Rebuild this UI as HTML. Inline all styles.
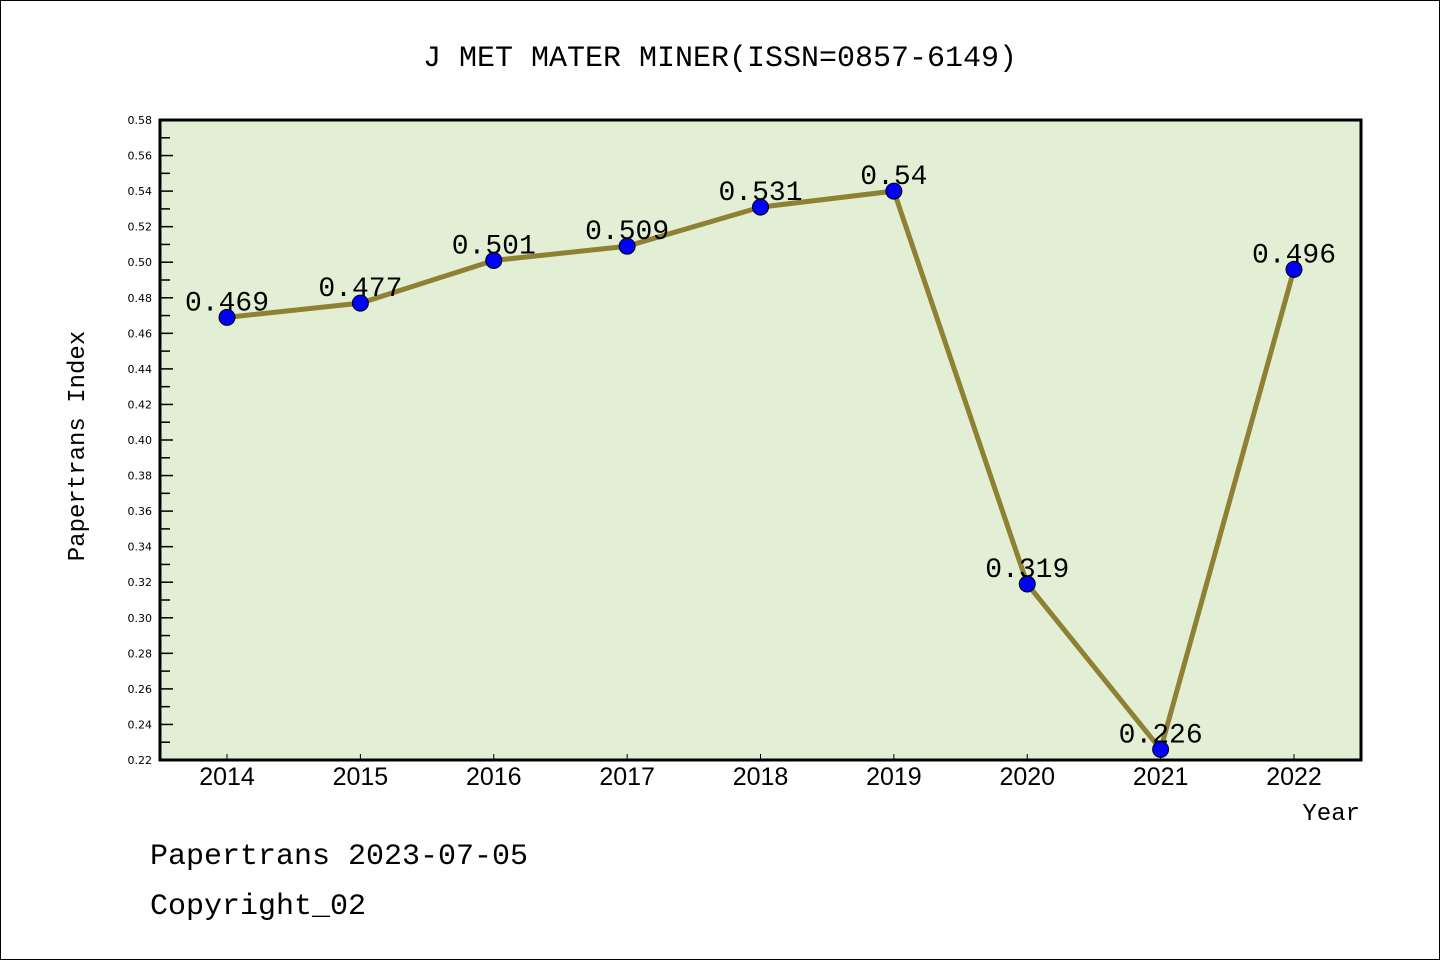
<!DOCTYPE html>
<html><head><meta charset="utf-8"><style>
html,body{margin:0;padding:0;background:#fff}
svg{display:block}
text{font-family:"WenQuanYi Zen Hei","Liberation Mono",monospace}
</style></head><body>
<svg id="c" width="1440" height="960">
<rect x="0.5" y="0.5" width="1439" height="959" fill="#fff" stroke="#000"/>
<text x="720" y="66" text-anchor="middle" font-size="30">J MET MATER MINER(ISSN=0857-6149)</text>
<rect x="160" y="120" width="1201" height="640" fill="#e2efd5"/>
<g id="ticks"></g>
<g id="series"></g>
<rect x="160" y="120" width="1201" height="640" fill="none" stroke="#000" stroke-width="3"/>
<text transform="translate(84,446) rotate(-90)" text-anchor="middle" font-size="24">Papertrans Index</text>
<text x="1360" y="820" text-anchor="end" font-size="24">Year</text>
<text x="150" y="864" font-size="30">Papertrans 2023-07-05</text>
<text x="150" y="914" font-size="30">Copyright_02</text>
</svg>
<script>
const years=["2014","2015","2016","2017","2018","2019","2020","2021","2022"];
const values=[0.469,0.477,0.501,0.509,0.531,0.54,0.319,0.226,0.496];
const labels=["0.469","0.477","0.501","0.509","0.531","0.54","0.319","0.226","0.496"];
const yMin=0.22,yMax=0.58;
const ns="http://www.w3.org/2000/svg";
function X(i){return 227+i*(1294-227)/(years.length-1);}
function Y(v){return 760-(v-yMin)/(yMax-yMin)*640;}
function mk(t,a,p){const e=document.createElementNS(ns,t);for(const k in a)e.setAttribute(k,a[k]);p.appendChild(e);return e;}
const tg=document.getElementById('ticks'),sg=document.getElementById('series');
for(let k=0;k<=36;k++){
  const v=yMin+k*0.01,y=Y(v),major=k%2===0;
  const l=mk('line',{x1:160,x2:160+(major?13:10),y1:y,y2:y,stroke:'#000','stroke-width':1.5},tg);
  
  
  if(major){
    const t=mk('text',{x:152,y:y+4,'text-anchor':'end','font-size':11,style:'font-family:"DejaVu Sans",sans-serif'},tg);
    t.textContent=v.toFixed(2);
    
    
  }
}
years.forEach((yr,i)=>{
  const l=mk('line',{x1:X(i),x2:X(i),y1:760,y2:754,stroke:'#000','stroke-width':1},tg);
  
  
  const t=mk('text',{x:X(i),y:785,'text-anchor':'middle','font-size':25,style:'font-family:"Liberation Sans",sans-serif'},tg);
  t.textContent=yr;
  
  
});
const pl=mk('polyline',{points:values.map((v,i)=>X(i)+','+Y(v)).join(' '),fill:'none',stroke:'#8f8134','stroke-width':5,'stroke-linejoin':'round'},sg);


values.forEach((v,i)=>{
  const c=mk('circle',{cx:X(i),cy:Y(v),r:8,fill:'#0000ff',stroke:'#000','stroke-width':1},sg);
  
  
  const t=mk('text',{x:X(i),y:Y(v)-7,'text-anchor':'middle','font-size':28},sg);
  t.textContent=labels[i];
  
  
});
</script>
</body></html>
